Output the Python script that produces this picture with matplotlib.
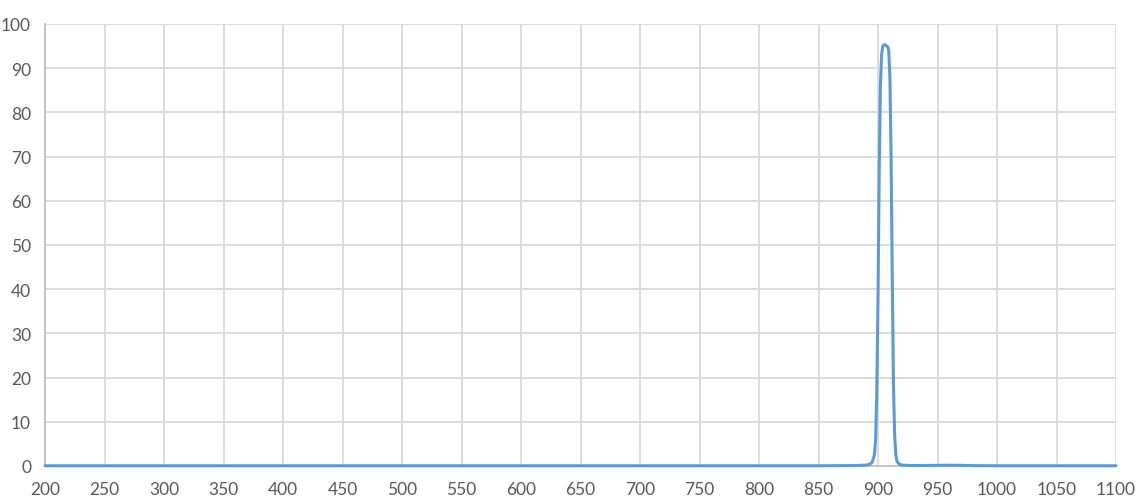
import matplotlib
matplotlib.use("Agg")
import matplotlib.pyplot as plt
import numpy as np

wavelength = [200, 300, 400, 500, 600, 700, 800, 850, 880, 890, 893, 895, 897, 898, 899,
              900, 901, 902, 903, 904, 905, 906, 907, 908, 909, 910, 911, 912, 913,
              914, 915, 916, 918, 920, 930, 950, 960, 970, 980, 1000, 1050, 1100]
transmission = [0.05, 0.05, 0.05, 0.05, 0.05, 0.05, 0.05, 0.05, 0.1, 0.2, 0.4, 0.8, 2.5, 6, 17,
                38, 66, 86, 93, 95.0, 95.3, 95.3, 95.1, 94.9, 94.0, 88, 70, 42, 18,
                7, 2.5, 1.0, 0.4, 0.2, 0.1, 0.15, 0.18, 0.15, 0.08, 0.05, 0.05, 0.05]

x_ticks = list(range(200, 1101, 50))
y_ticks = list(range(0, 101, 10))

plt.rcParams['font.family'] = ['Lato', 'DejaVu Sans']

fig = plt.figure(figsize=(11.39, 5.02), dpi=100)
ax = fig.add_axes([45/1139, 35/502, (1116-45)/1139, (467-25)/502])

ax.plot(wavelength, transmission, color='#5B9BD5', lw=2.2, solid_joinstyle='round',
        solid_capstyle='round', zorder=3, clip_on=False)

ax.set_xlim(200, 1100)
ax.set_ylim(0, 100)
ax.set_xticks(x_ticks)
ax.set_yticks(y_ticks)
ax.grid(True, color='#D9D9D9', lw=1.3)
ax.set_axisbelow(True)
ax.tick_params(length=0, labelsize=12.5, labelcolor='#595959')
ax.tick_params(axis='y', pad=10)
ax.tick_params(axis='x', pad=11)
for side in ['top', 'right']:
    ax.spines[side].set_visible(False)
ax.spines['left'].set_color('#BFBFBF')
ax.spines['left'].set_linewidth(1.3)
ax.spines['bottom'].set_color('#BFBFBF')
ax.spines['bottom'].set_linewidth(1.3)

fig.savefig('out.png', dpi=100, facecolor='white')
